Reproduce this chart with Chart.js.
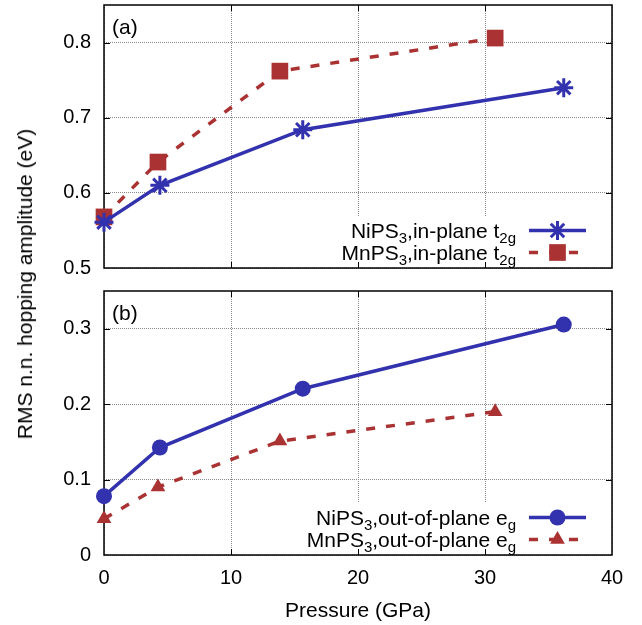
<!DOCTYPE html>
<html><head><meta charset="utf-8">
<script src="https://cdn.jsdelivr.net/npm/chart.js@4"></script>
<style>
html,body{margin:0;padding:0;background:#fff;width:642px;height:625px;overflow:hidden}
canvas{position:absolute;left:0}
#ca{top:0}
#cb{top:285px}
#ytitle{position:absolute;left:25px;top:284px;transform:translate(-50%,-50%) rotate(-90deg);font:21px "Liberation Sans",Arial,sans-serif;white-space:nowrap;color:#000}
</style></head>
<body>
<canvas id="ca" width="642" height="285"></canvas>
<canvas id="cb" width="642" height="340"></canvas>
<div id="ytitle">RMS n.n. hopping amplitude (eV)</div>
<script>
// ---- data ----
const pressureNi = [0, 4.4, 15.65, 36.2];
const pressureMn = [0, 4.25, 13.85, 30.8];
const niInPlane = [0.561, 0.61, 0.684, 0.74];
const mnInPlane = [0.568, 0.641, 0.762, 0.806];
const niOutOfPlane = [0.078, 0.1425, 0.2205, 0.3055];
const mnOutOfPlane = [0.048, 0.09, 0.151, 0.19];
const xTicks = [0, 10, 20, 30, 40];
const yTicksA = [0.5, 0.6, 0.7, 0.8];
const yTicksB = [0, 0.1, 0.2, 0.3];
const labelsA = ['NiPS_{3},in-plane t_{2g}', 'MnPS_{3},in-plane t_{2g}'];
const labelsB = ['NiPS_{3},out-of-plane e_{g}', 'MnPS_{3},out-of-plane e_{g}'];
const xTitle = 'Pressure (GPa)';

const BLUE = 'rgb(50,50,175)';
const RED = 'rgb(170,50,50)';
const FONT = '"Liberation Sans", Arial, sans-serif';
const RED_DASH = [9, 11];

function pts(xs, ys){ return xs.map((x,i)=>({x:x, y:ys[i]})); }
function plain(s){ return s.replace(/_\{([^}]*)\}/g,'$1'); }
function segs(s){
  const out=[]; const re=/_\{([^}]*)\}/g; let last=0,m;
  while((m=re.exec(s))){ if(m.index>last) out.push([s.slice(last,m.index),0]); out.push([m[1],1]); last=re.lastIndex; }
  if(last<s.length) out.push([s.slice(last),0]);
  return out;
}

function drawMarker(ctx, style, x, y, r, color){
  ctx.save();
  ctx.fillStyle=color; ctx.strokeStyle=color; ctx.setLineDash([]);
  ctx.beginPath();
  if(style==='star'){
    ctx.lineWidth=3;
    ctx.moveTo(x-r,y);ctx.lineTo(x+r,y);ctx.moveTo(x,y-r);ctx.lineTo(x,y+r);
    const d=r*Math.SQRT1_2;
    ctx.moveTo(x-d,y-d);ctx.lineTo(x+d,y+d);ctx.moveTo(x-d,y+d);ctx.lineTo(x+d,y-d);
    ctx.stroke();
  } else if(style==='rect'){
    const s=r*Math.SQRT1_2; ctx.rect(x-s,y-s,2*s,2*s); ctx.fill();
  } else if(style==='circle'){
    ctx.arc(x,y,r,0,Math.PI*2); ctx.fill();
  } else if(style==='triangle'){
    ctx.moveTo(x,y-r); ctx.lineTo(x+r*Math.sin(2*Math.PI/3), y-r*Math.cos(2*Math.PI/3));
    ctx.lineTo(x+r*Math.sin(4*Math.PI/3), y-r*Math.cos(4*Math.PI/3)); ctx.closePath(); ctx.fill();
  }
  ctx.restore();
}

function panelPlugin(panelLabel, legendLabels){
  const FS=21, SFS=15, SUBOFF=5;
  function textWidth(ctx, s){
    let w=0; for(const [t,sub] of segs(s)){ ctx.font=(sub?SFS:FS)+'px '+FONT; w+=ctx.measureText(t).width; } return w;
  }
  return {
    id:'panel_'+panelLabel,
    beforeDatasetsDraw(chart){
      const ctx=chart.ctx, a=chart.chartArea;
      const xs=chart.scales.x, ys=chart.scales.y;
      const xr=516;
      let maxW=0; legendLabels.forEach(l=>{maxW=Math.max(maxW,textWidth(ctx,l));});
      ctx.save();
      ctx.fillStyle='#fff';
      ctx.fillRect(xr-maxW-4, a.bottom-52, 592-(xr-maxW-4), 52);
      ctx.restore();
      ctx.save();
      ctx.strokeStyle='#000'; ctx.lineWidth=1.5; ctx.setLineDash([]);
      ctx.strokeRect(a.left, a.top, a.right-a.left, a.bottom-a.top);
      ctx.lineWidth=1;
      ctx.beginPath();
      xTicks.forEach(v=>{ const px=Math.round(xs.getPixelForValue(v))+0.5;
        if(px<=a.left+1||px>=a.right-1) return;
        ctx.moveTo(px,a.bottom); ctx.lineTo(px,a.bottom-6);
        ctx.moveTo(px,a.top); ctx.lineTo(px,a.top+6); });
      ys.ticks.forEach(t=>{ const py=Math.round(ys.getPixelForValue(t.value))+0.5;
        if(py<=a.top+1||py>=a.bottom-1) return;
        ctx.moveTo(a.left,py); ctx.lineTo(a.left+6,py);
        ctx.moveTo(a.right,py); ctx.lineTo(a.right-6,py); });
      ctx.stroke();
      ctx.fillStyle='#000'; ctx.font=FS+'px '+FONT; ctx.textAlign='left'; ctx.textBaseline='alphabetic';
      ctx.fillText(panelLabel, a.left+8, a.top+29);
      ctx.restore();
    },
    afterDatasetsDraw(chart){
      const ctx=chart.ctx, a=chart.chartArea;
      const xr=516;
      const rowsY=[a.bottom-37.5, a.bottom-15.5];
      chart.data.datasets.forEach((ds,i)=>{
        const y=rowsY[i];
        const s=legendLabels[i];
        ctx.save();
        const w=textWidth(ctx,s);
        let x=xr-w;
        ctx.fillStyle='#000'; ctx.textAlign='left'; ctx.textBaseline='alphabetic';
        for(const [t,sub] of segs(s)){
          ctx.font=(sub?SFS:FS)+'px '+FONT;
          ctx.fillText(t, x, y+7+(sub?SUBOFF:0));
          x+=ctx.measureText(t).width;
        }
        ctx.strokeStyle=ds.borderColor; ctx.lineWidth=ds.borderWidth;
        ctx.setLineDash(ds.borderDash||[]);
        ctx.beginPath(); ctx.moveTo(529,y); ctx.lineTo(586,y); ctx.stroke();
        ctx.restore();
        drawMarker(ctx, ds.pointStyle, 557.5, y, ds.pointRadius, ds.pointBackgroundColor);
      });
    }
  };
}

function makeChart(id, datasets, yMin, yMax, yTicks, legendLabels, panelLabel, opts){
  const c=document.getElementById(id);
  return new Chart(c, {
    type:'line',
    data:{datasets:datasets},
    options:{
      responsive:false, animation:false, devicePixelRatio:1,
      layout:{autoPadding:false, padding:{left:0,right:30,top:opts.top,bottom:0}},
      plugins:{legend:{display:false}, tooltip:{enabled:false}},
      elements:{line:{tension:0}},
      scales:{
        x:{type:'linear', min:0, max:40,
          afterBuildTicks:s=>{s.ticks=xTicks.map(v=>({value:v}));},
          grid:{color:'#8a8a8a', lineWidth:1, drawTicks:false},
          border:{display:false, dash:[1,1]},
          ticks:{display:opts.showX, padding:11, color:'#000', font:{family:FONT,size:20}},
          title:{display:opts.showX, text:xTitle, color:'#000', font:{family:FONT,size:21}, padding:{top:0,bottom:1.5}},
          afterFit:s=>{s.height=opts.xh; s.paddingLeft=0; s.paddingRight=0; s.paddingTop=0; s.paddingBottom=0;}
        },
        y:{type:'linear', min:yMin, max:yMax,
          afterBuildTicks:s=>{s.ticks=yTicks.map(v=>({value:v}));},
          grid:{color:'#8a8a8a', lineWidth:1, drawTicks:false},
          border:{display:false, dash:[1,1]},
          ticks:{padding:13, color:'#000', font:{family:FONT,size:20},
            callback:v=> v===0?'0':Number(v).toFixed(1)},
          afterFit:s=>{s.width=104; s.paddingTop=0; s.paddingBottom=0; s.paddingLeft=0; s.paddingRight=0;}
        }
      }
    },
    plugins:[panelPlugin(panelLabel, legendLabels)]
  });
}

function ds(label, data, color, dash, style, r, bw){
  return {label:plain(label), data:data, borderColor:color, backgroundColor:color,
    borderWidth:3.5, borderDash:dash, pointStyle:style, pointRadius:r, pointHoverRadius:r,
    pointBackgroundColor:color, pointBorderColor:color, pointBorderWidth:bw, clip:false, fill:false};
}

makeChart('ca', [
  ds(labelsA[0], pts(pressureNi, niInPlane), BLUE, [], 'star', 9.5, 3),
  ds(labelsA[1], pts(pressureMn, mnInPlane), RED, RED_DASH, 'rect', 11.8, 0)
], 0.5, 0.85, yTicksA, labelsA, '(a)', {top:5, showX:false, xh:17});

makeChart('cb', [
  ds(labelsB[0], pts(pressureNi, niOutOfPlane), BLUE, [], 'circle', 8, 0),
  ds(labelsB[1], pts(pressureMn, mnOutOfPlane), RED, RED_DASH, 'triangle', 8.5, 0)
], 0, 0.35, yTicksB, labelsB, '(b)', {top:6, showX:true, xh:70});
</script>
</body></html>
